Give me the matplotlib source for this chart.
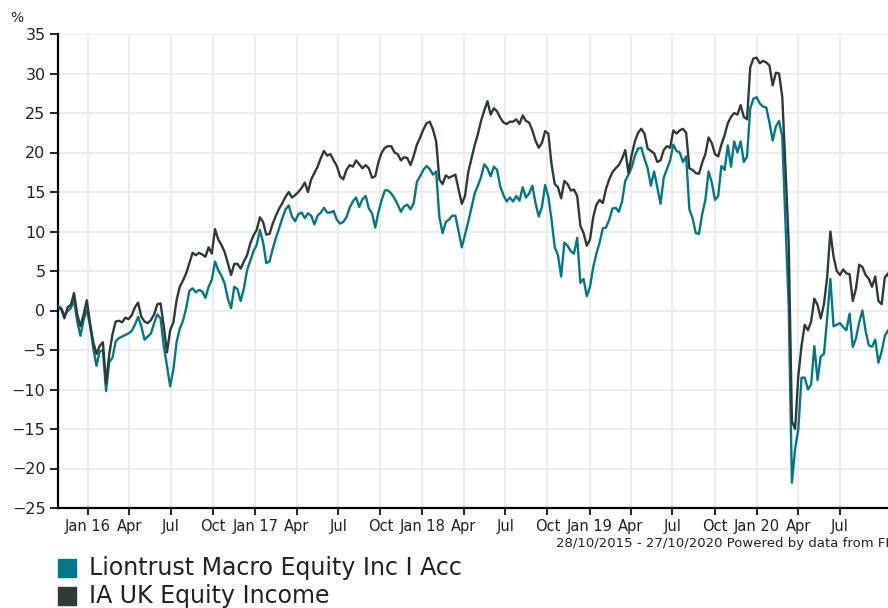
import numpy as np
import pandas as pd
import matplotlib
matplotlib.use("Agg")
import matplotlib.pyplot as plt
from matplotlib.patches import Rectangle

# weekly samples, 28/10/2015 -> 10/2020 (cumulative %)
dates = pd.date_range("2015-10-28", periods=261, freq="7D")

liontrust = [
    0.6, 0.3, -0.6, -0.1, 0.3, 1.3, -1.4, -3.2, -1.2, 0.1,
    -1.9, -4.8, -7.0, -5.2, -5.0, -10.2, -6.5, -6.0, -3.9, -3.5,
    -3.3, -3.1, -2.9, -2.6, -1.8, -0.8, -2.0, -3.7, -3.3, -2.9,
    -1.6, -0.5, -1.0, -4.5, -7.0, -9.6, -7.5, -4.0, -2.3, -1.3,
    0.3, 2.5, 2.8, 2.3, 2.6, 2.4, 1.6, 3.0, 3.9, 6.2,
    5.1, 4.4, 3.4, 1.5, 0.3, 3.0, 2.7, 1.2, 2.8, 5.1,
    6.3, 7.5, 8.3, 10.2, 8.6, 6.0, 6.2, 7.8, 9.2, 10.4,
    11.7, 12.8, 13.3, 11.9, 11.3, 12.2, 12.4, 11.7, 12.3, 12.0,
    10.9, 12.0, 12.4, 13.0, 12.4, 12.4, 12.6, 11.5, 11.0, 11.2,
    11.8, 13.0, 13.8, 14.3, 13.1, 14.1, 14.5, 12.9, 12.3, 10.5,
    12.5, 14.0, 15.2, 15.2, 14.8, 14.2, 13.4, 12.5, 13.2, 13.4,
    12.8, 13.6, 16.3, 17.0, 17.8, 18.3, 17.9, 17.2, 17.6, 11.8,
    9.8, 11.2, 11.5, 12.0, 12.0, 10.0, 8.0, 9.6, 11.2, 13.0,
    14.8, 15.8, 16.9, 18.5, 18.0, 17.0, 18.2, 17.8, 15.7, 14.6,
    13.8, 14.3, 13.8, 14.5, 13.9, 15.6, 14.3, 14.8, 15.8, 13.6,
    11.9, 13.1, 15.9, 14.4, 11.5, 8.0, 7.0, 4.3, 8.6, 8.2,
    7.5, 7.2, 9.2, 3.5, 4.0, 1.8, 3.0, 5.5, 7.2, 8.6,
    10.4, 10.5, 11.5, 12.9, 13.0, 12.5, 13.8, 16.4, 17.2, 18.1,
    19.6, 20.5, 20.6, 19.2, 18.0, 15.8, 17.6, 15.6, 13.5, 16.8,
    17.9, 19.0, 21.0, 20.2, 20.0, 18.8, 19.5, 12.8, 11.7, 9.8,
    9.7, 12.2, 14.0, 17.6, 16.2, 14.0, 14.5, 18.3, 17.8, 20.9,
    18.2, 21.4, 20.0, 21.4, 18.8, 19.5, 25.6, 26.8, 27.0, 26.2,
    25.8, 25.7, 23.8, 21.5, 23.3, 24.0, 22.0, 11.0, 0.5, -21.8,
    -17.5, -15.0, -8.5, -8.5, -10.0, -9.4, -4.5, -8.8, -5.8, -5.5,
    -1.0, 4.0, -2.0, -1.8, -1.6, -2.1, -2.5, -0.4, -4.6, -3.5,
    -1.5, 0.0, -2.6, -4.4, -4.6, -3.7, -6.6, -5.2, -3.2, -2.5,
    -4.0,
]

uk_income = [
    0.3, 0.2, -1.0, 0.4, 0.7, 2.2, -0.5, -2.0, -0.5, 1.3,
    -1.6, -4.0, -5.5, -4.5, -4.0, -9.2, -5.5, -3.0, -1.4, -1.3,
    -1.5, -0.9, -1.1, -0.6, 0.4, 1.0, -0.8, -1.4, -1.6, -1.2,
    -0.5, 0.8, 0.9, -2.0, -5.3, -2.5, -1.5, 1.3, 3.0, 3.8,
    4.7, 6.0, 7.3, 7.0, 7.3, 7.1, 6.8, 8.0, 7.2, 10.3,
    9.0, 8.3, 7.4, 6.0, 4.5, 5.9, 5.9, 5.3, 6.2, 7.0,
    8.5, 9.5, 10.2, 11.8, 11.2, 9.6, 9.7, 11.0, 12.0, 12.9,
    13.6, 14.4, 15.0, 14.3, 14.6, 15.0, 15.5, 16.2, 15.0, 16.6,
    17.4, 18.2, 19.3, 20.2, 19.6, 19.8, 19.0, 18.3, 17.0, 16.6,
    17.8, 18.4, 18.2, 19.0, 18.5, 18.0, 18.4, 18.0, 16.8, 17.0,
    18.8, 20.0, 20.6, 20.8, 20.8, 20.0, 19.8, 19.0, 19.4, 19.3,
    18.4, 19.6, 21.0, 21.9, 22.9, 23.7, 23.9, 22.9, 21.4, 16.6,
    16.0, 17.1, 16.8, 17.0, 17.2, 15.3, 13.5, 14.5, 17.5, 19.2,
    20.9, 22.3, 24.0, 25.3, 26.5, 24.8, 25.6, 25.2, 24.4, 23.8,
    23.6, 23.9, 23.9, 24.2, 23.6, 24.7, 24.0, 23.8, 22.8, 21.5,
    20.6, 21.2, 22.7, 22.4, 18.5, 16.0, 15.6, 14.2, 16.4, 16.0,
    15.2, 15.3, 14.5, 10.7, 9.8, 8.2, 9.0, 11.8, 13.4, 14.0,
    13.6, 15.4, 16.6, 17.5, 18.0, 18.4, 19.2, 20.3, 17.4, 19.7,
    21.4, 22.5, 23.0, 22.4, 20.5, 20.2, 19.9, 18.8, 19.0, 20.3,
    20.8, 20.6, 22.8, 22.4, 22.8, 23.0, 22.5, 18.0, 17.8, 17.4,
    17.3, 18.7, 19.8, 21.9, 21.2, 19.8, 19.5, 21.0, 22.2, 23.7,
    24.5, 25.0, 24.8, 26.0, 24.5, 24.2, 30.8, 31.9, 32.0, 31.3,
    31.6, 31.4, 31.0, 28.5, 30.1, 30.0, 27.0, 18.0, 8.5, -14.0,
    -15.0, -8.3, -4.5, -1.8, -2.5, -1.4, 1.5, 0.7, -1.0, 0.8,
    4.2, 10.0, 6.8, 5.0, 4.5, 5.2, 4.7, 4.6, 1.2, 2.8,
    5.8, 5.5, 4.5, 4.0, 3.0, 4.3, 1.2, 0.8, 4.2, 4.7,
    3.0,
]

names = ["Liontrust Macro Equity Inc I Acc", "IA UK Equity Income"]
colors = ["#00788a", "#2d3a37"]

tick_dates = pd.date_range("2016-01-01", "2020-07-01", freq="QS")
tick_labels = ["Jan 16", "Apr", "Jul", "Oct", "Jan 17", "Apr", "Jul", "Oct",
               "Jan 18", "Apr", "Jul", "Oct", "Jan 19", "Apr", "Jul", "Oct",
               "Jan 20", "Apr", "Jul"]

fig = plt.figure(figsize=(8.88, 6.08), dpi=100)
# the plot area runs a little past the right edge of the picture, as in the original
ax = fig.add_axes([58/888, 100/608, 836/888, 474/608])

ax.plot(dates, liontrust, color=colors[0], lw=1.7, zorder=3)
ax.plot(dates, uk_income, color=colors[1], lw=1.7, zorder=4)

ax.set_xlim(pd.Timestamp("2015-10-28"), pd.Timestamp("2020-10-27"))
ax.set_ylim(-25, 35)
ax.set_yticks(np.arange(-25, 36, 5))
ax.set_xticks(tick_dates)
ax.set_xticklabels(tick_labels)

ax.grid(True, color="#ebebeb", lw=1.3, zorder=0)
ax.set_axisbelow(True)
for s in ["top", "right"]:
    ax.spines[s].set_visible(False)
for s in ["left", "bottom"]:
    ax.spines[s].set_color("black")
    ax.spines[s].set_linewidth(1.6)

ax.tick_params(axis="y", length=6, width=1.2, labelsize=11.5, pad=3, colors="black",
               labelcolor="#222222")
ax.tick_params(axis="x", length=5, width=1.2, labelsize=10.5, pad=3, colors="black",
               labelcolor="#222222")

fig.text(10/888, 1 - 18/608, "%", fontsize=10, color="#222222", va="center")
ax.text(1.0, -0.075, "28/10/2015 - 27/10/2020 Powered by data from FE",
        transform=ax.transAxes, ha="right", va="center", fontsize=9.5, color="#222222")

# legend, drawn by hand under the axes
for i, (nm, c) in enumerate(zip(names, colors)):
    yc = 568 + i * 28
    fig.patches.append(Rectangle((58/888, 1 - (yc + 9)/608), 18/888, 18/608,
                                 transform=fig.transFigure, color=c))
    fig.text(89/888, 1 - yc/608, nm, fontsize=17, color="#222222", va="center")

fig.savefig("out.png", dpi=100)
